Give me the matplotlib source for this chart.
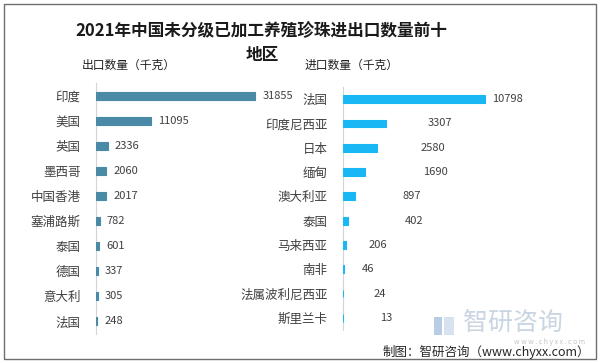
import matplotlib
matplotlib.use('Agg')
from matplotlib import pyplot as plt
from matplotlib.patches import Rectangle

plt.rcParams['font.family'] = ['Noto Sans CJK SC', 'DejaVu Sans']

# 出口数据
export_regions = ['印度', '美国', '英国', '墨西哥', '中国香港', '塞浦路斯', '泰国', '德国', '意大利', '法国']
export_values = [31855, 11095, 2336, 2060, 2017, 782, 601, 337, 305, 248]

# 进口数据
import_regions = ['法国', '印度尼西亚', '日本', '缅甸', '澳大利亚', '泰国', '马来西亚', '南非', '法属波利尼西亚', '斯里兰卡']
import_values = [10798, 3307, 2580, 1690, 897, 402, 206, 46, 24, 13]

# 进口数值标签离柱末端的距离（像素，照原图的位置）
import_label_gap = [7, 41, 44, 58, 48, 57, 23, 18, 30, 37]

W, H = 600, 363
fig = plt.figure(figsize=(W / 100, H / 100), dpi=100)
fig.patch.set_facecolor('white')


def px_box(x0, y0, x1, y1):
    # 像素坐标(左上原点) -> figure 坐标
    return [x0 / W, 1 - y1 / H, (x1 - x0) / W, (y1 - y0) / H]


def fx(x):
    return x / W


def fy(y):
    return 1 - y / H


# 外边框
fig.add_artist(Rectangle((fx(3.5), fy(358.5)), (592 / W), (354.5 / H),
                         transform=fig.transFigure, fill=False,
                         edgecolor='#6e6e6e', linewidth=1.0))

text_color = '#404040'


def draw_panel(box, regions, values, color, xmax):
    ax = fig.add_axes(px_box(*box))
    pos = range(len(regions))
    ax.barh(pos, values, height=0.32, color=color, edgecolor=color, linewidth=0.8)
    ax.set_ylim(len(regions) - 0.5, -0.5)
    ax.set_xlim(0, xmax)
    ax.set_yticks(list(pos))
    ax.set_yticklabels(regions, fontsize=9, color=text_color)
    ax.tick_params(axis='y', length=0, pad=11)
    ax.set_xticks([])
    for s in ['top', 'right', 'bottom']:
        ax.spines[s].set_visible(False)
    ax.spines['left'].set_color('#d4d4d4')
    ax.spines['left'].set_zorder(0)
    ax.patch.set_alpha(0)
    return ax


# 左：出口
ax1 = draw_panel((96, 83, 296, 334), export_regions, export_values, '#4a8aa6', 40000)
for i, v in enumerate(export_values):
    ax1.annotate(str(v), (v, i), xytext=(7, 0), textcoords='offset pixels',
                 va='center', ha='left', fontsize=8, color=text_color)

# 右：进口
ax2 = draw_panel((343, 87, 543, 330), import_regions, import_values, '#1ab7f5', 15208)
for i, v in enumerate(import_values):
    ax2.annotate(str(v), (v, i), xytext=(import_label_gap[i], 0), textcoords='offset pixels',
                 va='center', ha='left', fontsize=8, color=text_color)

# 标题
fig.text(fx(261), fy(30), '2021年中国未分级已加工养殖珍珠进出口数量前十',
         ha='center', va='center', fontsize=12, fontweight='bold', color='#1a1a1a')
fig.text(fx(262), fy(55), '地区', ha='center', va='center',
         fontsize=12, fontweight='bold', color='#1a1a1a')
fig.text(fx(82), fy(65), '出口数量（千克）', ha='left', va='center', fontsize=8.5, color='#202020')
fig.text(fx(305), fy(65), '进口数量（千克）', ha='left', va='center', fontsize=8.5, color='#202020')

# 水印
wm = '#c9d5e2'
fig.add_artist(Rectangle((fx(434), fy(335)), 8 / W, 18 / H, transform=fig.transFigure,
                         facecolor='#b8cde4', edgecolor='none'))
fig.add_artist(Rectangle((fx(444), fy(335)), 10 / W, 18 / H, transform=fig.transFigure,
                         facecolor='#d6e2ef', edgecolor='none'))
fig.text(fx(463), fy(323), '智研咨询', ha='left', va='center', fontsize=18, color=wm)
fig.text(fx(585), fy(341.5), 'w w w . c h y x x . c o m', ha='right', va='center',
         fontsize=5, color='#c4c4c4')

# 来源
fig.text(fx(590), fy(352), '制图：智研咨询（www.chyxx.com）', ha='right', va='center',
         fontsize=9, color='#262626')

fig.savefig('out.png', dpi=100, facecolor='white')
